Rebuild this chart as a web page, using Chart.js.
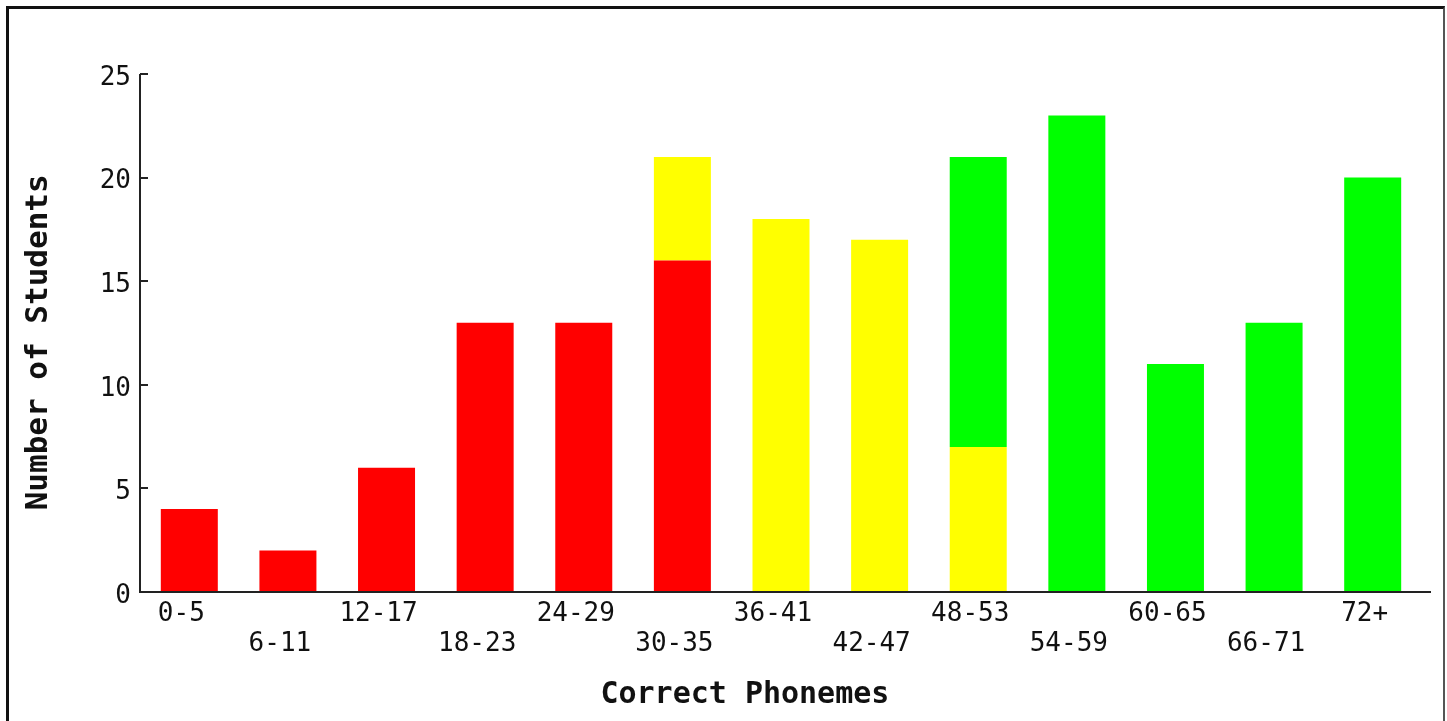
<!DOCTYPE html>
<html>
<head>
<meta charset="utf-8">
<script src="https://cdn.jsdelivr.net/npm/chart.js@4"></script>
<style>
  html, body { margin: 0; padding: 0; overflow: hidden; background: #fff; }
  #frame { position: absolute; left: 6px; top: 6px; width: 1434px; height: 800px; border: 3px solid #111; border-right: 2px solid #555; }
  #wrap { position: absolute; left: 0; top: 0; width: 1447px; height: 721px; }
</style>
</head>
<body>
<div id="frame"></div>
<div id="wrap"><canvas id="c" width="1447" height="721"></canvas></div>
<script>
const categories = ['0-5','6-11','12-17','18-23','24-29','30-35','36-41','42-47','48-53','54-59','60-65','66-71','72+'];
const redValues    = [4, 2, 6, 13, 13, 16, 0, 0, 0, 0, 0, 0, 0];
const yellowValues = [0, 0, 0, 0, 0, 5, 18, 17, 7, 0, 0, 0, 0];
const greenValues  = [0, 0, 0, 0, 0, 0, 0, 0, 14, 23, 11, 13, 20];
const yTicks = [0, 5, 10, 15, 20, 25];
const xTitle = 'Correct Phonemes';
const yTitle = 'Number of Students';

const FONT = "'DejaVu Sans Mono', 'Liberation Mono', monospace";

const axesPlugin = {
  id: 'axesPlugin',
  afterDatasetsDraw(chart) {
    const {ctx, chartArea, scales} = chart;
    const y = scales.y;
    ctx.save();
    ctx.strokeStyle = '#222';
    ctx.lineWidth = 2;
    ctx.beginPath();
    ctx.moveTo(chartArea.left, chartArea.top);
    ctx.lineTo(chartArea.left, chartArea.bottom);
    ctx.lineTo(chartArea.right + 9, chartArea.bottom);
    ctx.stroke();
    ctx.beginPath();
    yTicks.forEach(v => {
      const py = Math.round(y.getPixelForValue(v));
      ctx.moveTo(chartArea.left, py);
      ctx.lineTo(chartArea.left + 8, py);
    });
    ctx.stroke();
    ctx.restore();
  }
};

new Chart(document.getElementById('c'), {
  type: 'bar',
  data: {
    labels: categories.map((c, i) => i % 2 === 0 ? c : ['', c]),
    datasets: [
      { label: 'Red', data: redValues, backgroundColor: '#ff0000' },
      { label: 'Yellow', data: yellowValues, backgroundColor: '#ffff00' },
      { label: 'Green', data: greenValues, backgroundColor: '#00ff00' }
    ]
  },
  options: {
    responsive: false,
    animation: false,
    devicePixelRatio: 1,
    layout: { padding: { left: 0, top: 74, right: 25, bottom: 0 } },
    datasets: { bar: { barPercentage: 0.578, categoryPercentage: 1 } },
    plugins: { legend: { display: false }, tooltip: { enabled: false } },
    scales: {
      x: {
        stacked: true,
        grid: { display: false, drawTicks: false },
        border: { display: false },
        ticks: {
          color: '#111', maxRotation: 0, autoSkip: false, padding: 7, labelOffset: -8,
          font: { family: FONT, size: 26, lineHeight: 1.15 }
        },
        title: {
          display: true, text: xTitle + '    ', color: '#111',
          font: { family: FONT, size: 30, weight: 'bold', lineHeight: 1.2 },
          padding: { top: 0, bottom: 8 }
        },
        afterFit(scale) { scale.height = 129; }
      },
      y: {
        stacked: true,
        min: 0, max: 25,
        afterBuildTicks(scale) { scale.ticks = yTicks.map(v => ({ value: v })); },
        grid: { display: false, drawTicks: false },
        border: { display: false },
        ticks: {
          color: '#111', padding: 9, labelOffset: 4,
          font: { family: FONT, size: 26 }
        },
        title: {
          display: true, text: yTitle + ' ', color: '#111',
          font: { family: FONT, size: 31, weight: 'bold', lineHeight: 1.2 },
          padding: { top: 20, bottom: 0 }
        },
        afterFit(scale) { scale.width = 140; }
      }
    }
  },
  plugins: [axesPlugin]
});
</script>
</body>
</html>
